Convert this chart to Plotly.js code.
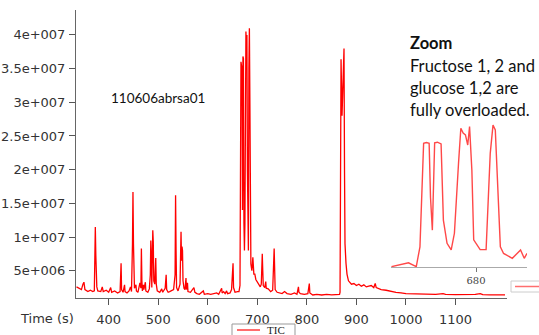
<!DOCTYPE html>
<html>
<head>
<meta charset="utf-8">
<script src="https://cdn.plot.ly/plotly-3.0.1.min.js"></script>
<style>html,body{margin:0;padding:0;background:#fff;}#chart{width:539px;height:335px;}</style>
</head>
<body>
<div id="chart"></div>
<script>
// Main TIC trace: time (s) and intensity (millions of counts)
const ticTime = [335,340,345,348,350,352,358,363,368,371,373,374,375,376,378,384,387,389,395,400,404,406,412,418,423,425,426,429,432,433,437,441,444,446,448,449,450,451,452,455,456,459,463,465,466,467,468,470,471,474,475,479,482,484,485,486,487,489,490,491,493,495,496,498,503,507,509,514,516,517,520,523,531,534,535,536,537,540,544,546,547,548,549,550,552,554,556,557,559,560,565,572,574,578,583,591,593,600,606,612,618,622,628,629,632,635,638,640,645,648,651,652,655,660,663,665,666,667,669,670,671,672,673,674,675,676,677,678,679,680,681,682,683,684,685,686,687,689,691,693,695,697,700,703,706,708,710,711,712,715,717,718,722,727,731,734,735,736,740,745,750,755,760,768,775,780,783,784,787,795,802,805,806,812,820,830,840,850,860,866,867,868,869,871,873,875,876,877,879,881,884,887,890,895,900,905,910,915,920,925,930,935,938,940,945,950,960,970,980,990,1000,1020,1040,1060,1075,1080,1100,1120,1140,1150,1155,1170,1185,1200];
const ticValue = [2.6,2.4,2.2,3.0,3.3,2.2,1.9,2.1,1.9,2.0,11.5,7.3,4.5,2.6,2.0,1.9,2.6,1.9,2.1,1.8,2.5,1.8,2.0,1.7,1.9,6.1,2.2,1.8,2.9,1.9,1.7,2.0,2.6,1.9,9.0,16.7,9.0,3.0,2.4,2.9,2.0,1.8,3.2,2.4,8.3,3.5,2.0,2.9,2.2,3.3,2.0,1.8,2.3,4.4,9.5,7.0,2.5,11.0,9.3,3.5,3.0,6.9,3.0,2.0,1.8,2.3,1.8,2.4,4.4,2.2,1.8,1.9,2.2,4.4,16.2,8.0,2.5,2.0,3.0,10.8,6.5,8.6,8.0,3.5,2.4,2.2,3.9,2.2,3.2,1.9,1.8,2.5,1.8,1.6,1.5,2.0,1.5,1.6,1.5,1.6,1.7,1.5,2.4,1.7,1.9,1.6,2.0,1.6,1.7,2.2,6.1,2.5,1.8,1.9,1.9,2.8,20.0,36.0,35.0,14.0,36.8,36.5,12.0,8.0,12.0,35.0,40.5,38.5,40.0,20.0,9.0,8.0,35.0,41.0,30.0,8.0,6.0,5.0,7.0,4.5,4.5,3.7,3.3,2.9,2.6,3.0,7.5,5.0,2.8,2.5,3.4,2.4,2.3,1.9,2.1,8.3,4.0,2.2,1.8,1.7,1.6,1.9,1.6,1.5,1.7,1.5,2.6,1.8,1.6,1.5,1.6,3.1,1.7,1.4,1.5,1.4,1.5,1.4,1.4,1.5,1.8,20.0,36.4,28.0,33.0,38.0,20.0,9.0,6.1,4.5,3.5,3.2,3.0,3.1,2.8,3.0,2.7,2.9,2.6,2.7,2.8,2.5,3.1,2.5,2.3,2.2,2.1,1.9,1.8,1.7,1.6,1.55,1.5,1.5,1.6,1.5,1.45,1.45,1.5,1.6,1.45,1.4,1.4,1.4];

// Zoom inset: sugar peaks
const zoomTime = [661.6,665.3,667.0,667.8,668.6,669.2,669.8,670.1,670.5,671.0,671.6,672.4,672.9,673.7,674.6,675.3,676.2,676.7,677.2,677.7,678.2,678.6,679.1,679.5,680.9,682.2,683.1,683.7,684.2,684.7,685.3,686.0,687.9,689.7,690.5,691.1];
const zoomValue = [0.1,1.2,0.1,5.8,35.6,35.8,35.6,20.0,10.6,35.7,35.9,35.4,13.5,6.8,4.9,9.7,29.9,39.9,38.5,38.0,35.1,40.4,27.9,7.8,5.0,5.0,32.7,40.8,39.4,23.1,5.8,3.9,2.5,4.9,2.5,3.9];

// Axis ticks
const yTickVals = [5,10,15,20,25,30,35,40];
const yTickText = ['5e+006','1e+007','1.5e+007','2e+007','2.5e+007','3e+007','3.5e+007','4e+007'];
const xTickVals = [400,500,600,700,800,900,1000,1100];
const zoomTickVals = [680];

const W = 539, H = 335, L = 76, R = 10, T = 10, B = 37;
const pw = W - L - R, ph = H - T - B;
const px = v => (v - L) / pw;
const py = v => (H - B - v) / ph;

const traces = [
  {x: ticTime, y: ticValue, type: 'scatter', mode: 'lines', name: 'TIC',
   line: {color: 'rgb(255,0,0)', width: 1.3}, xaxis: 'x', yaxis: 'y', showlegend: false},
  {x: zoomTime, y: zoomValue, type: 'scatter', mode: 'lines', name: 'Zoom',
   line: {color: 'rgba(255,40,40,0.85)', width: 1.4}, xaxis: 'x2', yaxis: 'y2', showlegend: false}
];

const tickFont = {family: 'DejaVu Sans', size: 13, color: '#333'};
const txt = (text, x, y, opts) => Object.assign({text, x: px(x), y: py(y), xref: 'paper', yref: 'paper', showarrow: false,
  xanchor: 'left', yanchor: 'middle', borderpad: 0, font: {family: 'Lato', size: 16.5, color: '#111'}}, opts || {});

const layout = {
  width: W, height: H,
  margin: {l: L, r: R, t: T, b: B, pad: 0},
  paper_bgcolor: '#fff', plot_bgcolor: 'rgba(0,0,0,0)',
  showlegend: false,
  xaxis: {domain: [0, px(507)], range: [334, 1204], tickvals: xTickVals, ticks: 'outside', ticklen: 6, tickcolor: '#555',
    showgrid: false, zeroline: false, showline: true, linecolor: '#666', linewidth: 1, tickfont: tickFont, ticklabelstandoff: 3},
  yaxis: {domain: [0, 1], range: [0.95, 43.7], tickvals: yTickVals, ticktext: yTickText, ticks: 'outside', ticklen: 6, tickcolor: '#555',
    showgrid: false, zeroline: false, showline: true, linecolor: '#666', linewidth: 1, tickfont: tickFont, ticklabelstandoff: 1},
  xaxis2: {domain: [px(391), px(527)], anchor: 'y2', range: [661.5, 691.1], tickvals: zoomTickVals, ticks: 'outside', ticklen: 4,
    tickcolor: '#777', showgrid: false, zeroline: false, showline: true, linecolor: '#aaa', linewidth: 1,
    tickfont: {family: 'DejaVu Serif', size: 10, color: '#444'}, ticklabelstandoff: 0},
  yaxis2: {domain: [py(267), py(121)], anchor: 'x2', range: [0, 42], visible: false},
  shapes: [
    {type: 'rect', xref: 'paper', yref: 'paper', x0: px(232), x1: px(295), y0: py(324), y1: py(350),
     line: {color: '#999', width: 1}, fillcolor: '#fff'},
    {type: 'line', xref: 'paper', yref: 'paper', x0: px(237), x1: px(260), y0: py(330), y1: py(330),
     line: {color: 'rgb(255,60,60)', width: 1.5}},
    {type: 'rect', xref: 'paper', yref: 'paper', x0: px(511), x1: px(545), y0: py(281), y1: py(292),
     line: {color: '#ccc', width: 1}, fillcolor: '#fff'},
    {type: 'line', xref: 'paper', yref: 'paper', x0: px(515), x1: px(545), y0: py(286.5), y1: py(286.5),
     line: {color: 'rgb(255,110,110)', width: 1.5}}
  ],
  annotations: [
    txt('TIC', 266, 330, {font: {family: 'Liberation Serif', size: 11, color: '#222'}}),
    txt('Time (s)', 47, 318, {xanchor: 'center', font: {family: 'DejaVu Sans', size: 13, color: '#333'}}),
    txt('110606abrsa01', 157.5, 98.3, {xanchor: 'center', font: {family: 'Lato', size: 13.5, color: '#111'}}),
    txt('<b>Zoom</b>', 409, 43.3),
    txt('Fructose 1, 2 and', 409, 66),
    txt('glucose 1,2 are', 409, 88.3),
    txt('fully overloaded.', 409, 110)
  ]
};

Plotly.newPlot('chart', traces, layout, {staticPlot: true, displayModeBar: false});
</script>
</body>
</html>
